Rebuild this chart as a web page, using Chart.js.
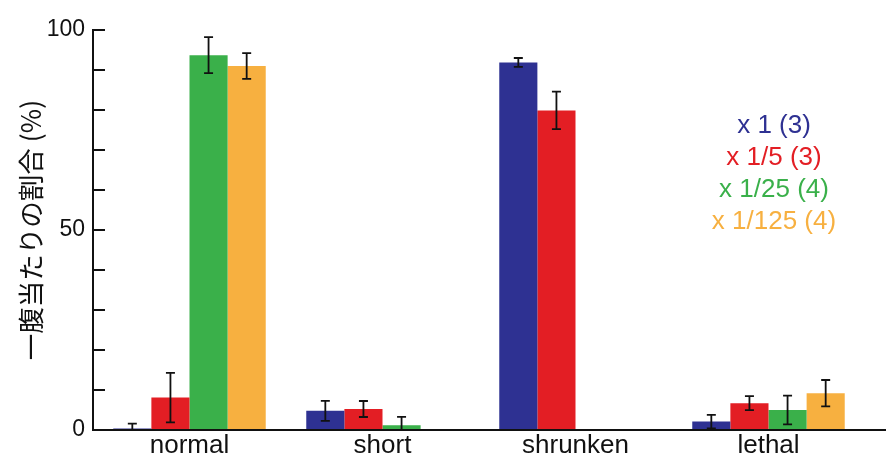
<!DOCTYPE html>
<html><head><meta charset="utf-8">
<script src="https://cdn.jsdelivr.net/npm/chart.js@4/dist/chart.umd.min.js"></script>
<style>html,body{margin:0;padding:0;background:#fff;overflow:hidden}</style>
</head><body>
<canvas id="c" width="886" height="457"></canvas>
<script>
const categories = ['normal', 'short', 'shrunken', 'lethal'];
const seriesLabels = ['x 1 (3)', 'x 1/5 (3)', 'x 1/25 (4)', 'x 1/125 (4)'];
const seriesColors = ['#2E3192', '#E31E24', '#3AB04A', '#F7B040'];
const x1 = [0.4, 4.8, 91.9, 2.1];
const x1Err = [1.2, 2.5, 1.1, 1.7];
const x5 = [8.1, 5.25, 79.9, 6.7];
const x5Err = [6.2, 2.0, 4.7, 1.75];
const x25 = [93.7, 1.2, null, 5.0];
const x25Err = [4.5, 2.1, null, 3.6];
const x125 = [91.0, null, null, 9.2];
const x125Err = [3.2, null, null, 3.3];
const yTickLabels = [0, 50, 100];
const yMinorStep = 10;
const yTitle = '一腹当たりの割合 (%)';

const values = [x1, x5, x25, x125];
const errors = [x1Err, x5Err, x25Err, x125Err];

const errorBars = {
  id: 'errorBars',
  afterDatasetsDraw(chart) {
    const ctx = chart.ctx, y = chart.scales.y;
    ctx.save();
    ctx.strokeStyle = '#111';
    ctx.lineWidth = 1.8;
    chart.data.datasets.forEach((ds, i) => {
      const meta = chart.getDatasetMeta(i);
      meta.data.forEach((bar, j) => {
        const v = ds.data[j], e = ds.errs[j];
        if (v == null || e == null) return;
        const x = bar.x;
        const yt = y.getPixelForValue(v + e);
        const yb = y.getPixelForValue(Math.max(0, v - e));
        ctx.beginPath();
        ctx.moveTo(x, yt); ctx.lineTo(x, yb);
        ctx.moveTo(x - 4.5, yt); ctx.lineTo(x + 4.5, yt);
        ctx.moveTo(x - 4.5, yb); ctx.lineTo(x + 4.5, yb);
        ctx.stroke();
      });
    });
    ctx.restore();
  }
};

const axesDecor = {
  id: 'axesDecor',
  afterDraw(chart) {
    const ctx = chart.ctx, y = chart.scales.y, a = chart.chartArea;
    ctx.save();
    ctx.strokeStyle = '#111';
    ctx.lineWidth = 2;
    for (let v = y.min; v <= y.max; v += yMinorStep) {
      const py = y.getPixelForValue(v);
      ctx.beginPath(); ctx.moveTo(a.left, py); ctx.lineTo(a.left + 12, py); ctx.stroke();
    }
    const p0 = y.getPixelForValue(0);
    ctx.beginPath(); ctx.moveTo(a.left - 1, p0); ctx.lineTo(chart.width, p0); ctx.stroke();
    ctx.font = '26px "Liberation Sans", Arial, sans-serif';
    ctx.textAlign = 'center';
    ctx.textBaseline = 'middle';
    chart.data.datasets.forEach((ds, i) => {
      ctx.fillStyle = ds.backgroundColor;
      ctx.fillText(ds.label, 774, 126 + i * 32);
    });
    ctx.restore();
  }
};

new Chart(document.getElementById('c'), {
  type: 'bar',
  data: {
    labels: categories,
    datasets: values.map((d, i) => ({
      label: seriesLabels[i],
      data: d,
      errs: errors[i],
      backgroundColor: seriesColors[i],
      borderWidth: 0,
      barPercentage: 1,
      categoryPercentage: 0.79
    }))
  },
  options: {
    responsive: false,
    animation: false,
    devicePixelRatio: 1,
    layout: { padding: { top: 30, right: 21, left: 0, bottom: 0 } },
    plugins: { legend: { display: false }, tooltip: { enabled: false } },
    scales: {
      x: {
        grid: { display: false, drawTicks: false },
        border: { display: false },
        ticks: { color: '#111', font: { family: '"Liberation Sans", Arial, sans-serif', size: 26 }, padding: 0, maxRotation: 0 },
        afterFit(s) { s.height = 27; }
      },
      y: {
        min: 0, max: 100,
        grid: { display: false, drawTicks: false },
        border: { display: true, color: '#111', width: 2 },
        ticks: {
          color: '#111', padding: 8,
          font: { family: '"Liberation Sans", Arial, sans-serif', size: 23 },
          stepSize: 50,
          callback: v => yTickLabels.includes(v) ? String(v) : ''
        },
        title: {
          display: true, text: yTitle, color: '#111',
          font: { family: '"Noto Sans CJK JP", sans-serif', size: 26.5 },
          padding: { top: 15, bottom: 0 }
        },
        afterFit(s) { s.width = 93; }
      }
    }
  },
  plugins: [errorBars, axesDecor]
});
</script>
</body></html>
